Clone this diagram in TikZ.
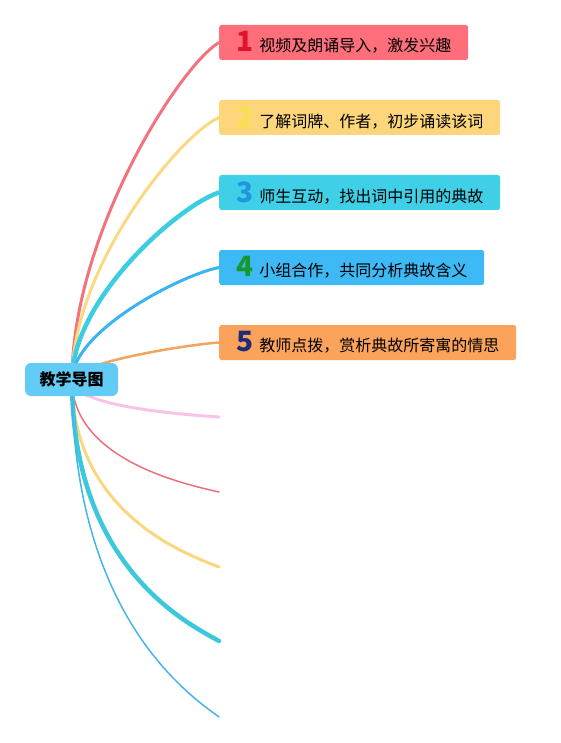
\documentclass[tikz,border=0pt]{standalone}
\usepackage{fontspec}
\newfontfamily\cjk{Noto Sans CJK SC}
\usetikzlibrary{backgrounds}
\definecolor{bxA}{HTML}{FF6F7B}
\definecolor{bxB}{HTML}{FDD67C}
\definecolor{bxC}{HTML}{3FCFE6}
\definecolor{bxD}{HTML}{3DB9F5}
\definecolor{bxE}{HTML}{FCA35B}
\definecolor{nmA}{HTML}{E0132D}
\definecolor{nmB}{HTML}{F6E04E}
\definecolor{nmC}{HTML}{2196E0}
\definecolor{nmD}{HTML}{17982F}
\definecolor{nmE}{HTML}{1E2A7A}
\definecolor{lnA}{HTML}{F2737E}
\definecolor{lnB}{HTML}{FBD982}
\definecolor{lnC}{HTML}{3CCDE0}
\definecolor{lnD}{HTML}{3BB3EE}
\definecolor{lnE}{HTML}{F5A45D}
\definecolor{lnF}{HTML}{F8C3E6}
\definecolor{lnG}{HTML}{EE6F7A}
\definecolor{lnH}{HTML}{FAD77F}
\definecolor{lnI}{HTML}{3CC8DA}
\definecolor{lnJ}{HTML}{45B4E8}
\definecolor{hubfill}{HTML}{62CCF6}
\tikzset{
  stepbox/.style 2 args={fill=#1, rounded corners=2.5pt, anchor=west,
    minimum height=35pt, inner ysep=0pt, inner xsep=17pt,
    text width=#2, align=left, font=\cjk\fontsize{16pt}{18pt}\selectfont},
  branch/.style 2 args={draw=#1, line width=#2, line cap=round},
}
\newcommand{\stepnum}[3]{\mbox{{\fontsize{28pt}{28pt}\selectfont\bfseries\color{#1}#2}\hspace{6pt}#3}}
\begin{document}
\begin{tikzpicture}[x=1pt,y=-1pt]
\useasboundingbox (0,0) rectangle (561,743);
\coordinate (hub) at (72,380);
\node[fill=hubfill, rounded corners=6pt, minimum width=93pt, minimum height=33pt,
  inner sep=0pt, font=\cjk\bfseries\fontsize{16pt}{18pt}\selectfont] (root) at (71.5,379.5) {教学导图};
\node[stepbox={bxA}{215pt}] (s1) at (219,42.5) {\stepnum{nmA}{1}{视频及朗诵导入，激发兴趣}};
\node[stepbox={bxB}{247pt}] (s2) at (219,117.5) {\stepnum{nmB}{2}{了解词牌、作者，初步诵读该词}};
\node[stepbox={bxC}{247pt}] (s3) at (219,192.5) {\stepnum{nmC}{3}{师生互动，找出词中引用的典故}};
\node[stepbox={bxD}{231pt}] (s4) at (219,267.5) {\stepnum{nmD}{4}{小组合作，共同分析典故含义}};
\node[stepbox={bxE}{263pt}] (s5) at (219,342.5) {\stepnum{nmE}{5}{教师点拨，赏析典故所寄寓的情思}};
\coordinate (e1) at (219,417);
\coordinate (e2) at (219,492);
\coordinate (e3) at (219,567);
\coordinate (e4) at (219,641);
\coordinate (e5) at (219,717);
\begin{scope}[on background layer]
\draw[branch={lnA}{3pt}] (hub) .. controls +(0,-145) and +(-40,24) .. (s1.west);
\draw[branch={lnB}{3pt}] (hub) .. controls +(0,-113) and +(-40,18) .. (s2.west);
\draw[branch={lnC}{4.5pt}] (hub) .. controls +(0,-81) and +(-40,13) .. (s3.west);
\draw[branch={lnD}{3pt}] (hub) .. controls +(0,-48) and +(-40,8) .. (s4.west);
\draw[branch={lnE}{2.5pt}] (hub) .. controls +(0,-16) and +(-40,3) .. (s5.west);
\draw[branch={lnF}{3pt}] (hub) .. controls +(0,27) and +(-30,-2) .. (e1);
\draw[branch={lnG}{1.5pt}] (hub) .. controls +(0,81) and +(-30,-7) .. (e2);
\draw[branch={lnH}{3pt}] (hub) .. controls +(0,135) and +(-30,-12) .. (e3);
\draw[branch={lnI}{4.5pt}] (hub) .. controls +(0,188) and +(-30,-17) .. (e4);
\draw[branch={lnJ}{1.5pt}] (hub) .. controls +(0,235) and +(-30,-22) .. (e5);
\end{scope}
\end{tikzpicture}
\end{document}
